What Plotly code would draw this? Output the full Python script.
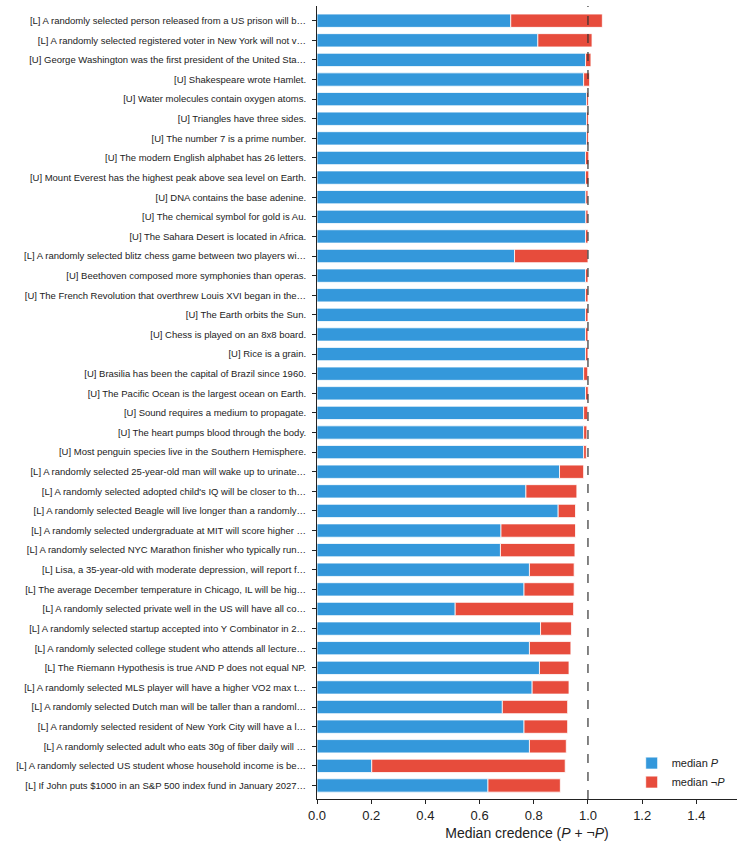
import plotly.graph_objects as go

labels = [
    "[L] A randomly selected person released from a US prison will b…",
    "[L] A randomly selected registered voter in New York will not v…",
    "[U] George Washington was the first president of the United Sta…",
    "[U] Shakespeare wrote Hamlet.",
    "[U] Water molecules contain oxygen atoms.",
    "[U] Triangles have three sides.",
    "[U] The number 7 is a prime number.",
    "[U] The modern English alphabet has 26 letters.",
    "[U] Mount Everest has the highest peak above sea level on Earth.",
    "[U] DNA contains the base adenine.",
    "[U] The chemical symbol for gold is Au.",
    "[U] The Sahara Desert is located in Africa.",
    "[L] A randomly selected blitz chess game between two players wi…",
    "[U] Beethoven composed more symphonies than operas.",
    "[U] The French Revolution that overthrew Louis XVI began in the…",
    "[U] The Earth orbits the Sun.",
    "[U] Chess is played on an 8x8 board.",
    "[U] Rice is a grain.",
    "[U] Brasilia has been the capital of Brazil since 1960.",
    "[U] The Pacific Ocean is the largest ocean on Earth.",
    "[U] Sound requires a medium to propagate.",
    "[U] The heart pumps blood through the body.",
    "[U] Most penguin species live in the Southern Hemisphere.",
    "[L] A randomly selected 25-year-old man will wake up to urinate…",
    "[L] A randomly selected adopted child's IQ will be closer to th…",
    "[L] A randomly selected Beagle will live longer than a randomly…",
    "[L] A randomly selected undergraduate at MIT will score higher …",
    "[L] A randomly selected NYC Marathon finisher who typically run…",
    "[L] Lisa, a 35-year-old with moderate depression, will report f…",
    "[L] The average December temperature in Chicago, IL will be hig…",
    "[L] A randomly selected private well in the US will have all co…",
    "[L] A randomly selected startup accepted into Y Combinator in 2…",
    "[L] A randomly selected college student who attends all lecture…",
    "[L] The Riemann Hypothesis is true AND P does not equal NP.",
    "[L] A randomly selected MLS player will have a higher VO2 max t…",
    "[L] A randomly selected Dutch man will be taller than a randoml…",
    "[L] A randomly selected resident of New York City will have a l…",
    "[L] A randomly selected adult who eats 30g of fiber daily will …",
    "[L] A randomly selected US student whose household income is be…",
    "[L] If John puts $1000 in an S&P 500 index fund in January 2027…",
]

median_p = [
    0.715, 0.815, 0.991, 0.984, 0.995, 0.995, 0.995, 0.991, 0.991, 0.992,
    0.992, 0.991, 0.729, 0.991, 0.991, 0.991, 0.991, 0.991, 0.984, 0.991,
    0.984, 0.984, 0.984, 0.895, 0.771, 0.890, 0.679, 0.677, 0.784, 0.764,
    0.510, 0.825, 0.784, 0.821, 0.794, 0.684, 0.764, 0.784, 0.202, 0.631,
]

median_not_p = [
    0.338, 0.200, 0.020, 0.022, 0.007, 0.007, 0.007, 0.012, 0.012, 0.008,
    0.008, 0.009, 0.271, 0.009, 0.009, 0.009, 0.009, 0.009, 0.015, 0.010,
    0.015, 0.012, 0.010, 0.089, 0.188, 0.064, 0.275, 0.275, 0.165, 0.185,
    0.437, 0.114, 0.153, 0.109, 0.136, 0.241, 0.161, 0.136, 0.714, 0.267,
]

x_ticks = [0.0, 0.2, 0.4, 0.6, 0.8, 1.0, 1.2, 1.4]

BLUE = "#3498db"
RED = "#e74c3c"
FONT = "Liberation Sans, Arial, Helvetica, sans-serif"

fig = go.Figure()
fig.add_trace(go.Bar(
    y=labels, x=median_p, orientation="h", name="median <i>P</i>",
    marker=dict(color=BLUE, line=dict(color="white", width=0.8)),
    width=0.68,
))
fig.add_trace(go.Bar(
    y=labels, x=median_not_p, base=median_p, orientation="h", name="median ¬<i>P</i>",
    marker=dict(color=RED, line=dict(color="white", width=0.8)),
    width=0.68,
))

fig.add_shape(type="line", xref="x", yref="paper", x0=1.0, x1=1.0, y0=0, y1=1,
              line=dict(color="#333333", width=1.2, dash="dash"), layer="above")

fig.update_layout(
    width=744, height=848,
    margin=dict(l=317, r=7, t=6, b=49),
    barmode="overlay",
    plot_bgcolor="white", paper_bgcolor="white",
    font=dict(family=FONT, color="#222222"),
    showlegend=True,
    legend=dict(
        x=0.985, y=0.003, xanchor="right", yanchor="bottom",
        font=dict(size=11, family=FONT, color="#222222"),
        bgcolor="rgba(255,255,255,0)", itemwidth=30, tracegroupgap=0,
        traceorder="normal",
    ),
    xaxis=dict(
        range=[0, 1.55], tickvals=x_ticks, tickformat=".1f",
        ticks="outside", ticklen=4, tickcolor="#222222",
        showline=True, linecolor="#222222", linewidth=1,
        showgrid=False, zeroline=False,
        tickfont=dict(size=13, family=FONT, color="#222222"),
        title=dict(text="Median credence (<i>P</i> + ¬<i>P</i>)",
                   font=dict(size=14, family=FONT, color="#222222"), standoff=6),
    ),
    yaxis=dict(
        type="category", categoryorder="array", categoryarray=labels,
        range=[39.69, -0.75],
        ticks="outside", ticklen=4, tickcolor="#222222",
        showline=True, linecolor="#222222", linewidth=1,
        showgrid=False, zeroline=False,
        ticklabelstandoff=4,
        tickfont=dict(size=9.5, family=FONT, color="#222222"),
    ),
)

fig.write_html("out.html")
